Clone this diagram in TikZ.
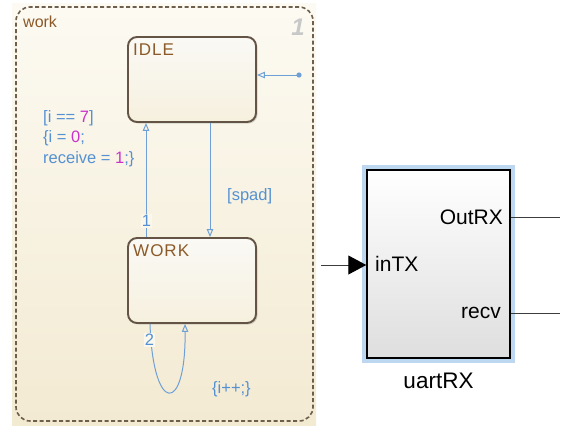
\documentclass[tikz,border=0pt]{standalone}
\usepackage{fontspec}
\setmainfont{Liberation Sans}
\newfontfamily\statefont[LetterSpace=6]{Liberation Sans}
\usetikzlibrary{arrows.meta,shadows}
\definecolor{chartbgtop}{RGB}{252,250,242}
\definecolor{chartbgbot}{RGB}{243,234,210}
\definecolor{dashcol}{RGB}{110,94,76}
\definecolor{stateborder}{RGB}{100,84,70}
\definecolor{labelbrown}{RGB}{140,90,40}
\definecolor{transblue}{RGB}{110,160,215}
\definecolor{textblue}{RGB}{85,145,210}
\definecolor{nummag}{RGB}{200,50,200}
\definecolor{selblue}{RGB}{190,215,240}
\definecolor{wmgray}{RGB}{200,200,200}
\definecolor{wirecol}{RGB}{60,60,60}
\definecolor{blockbot}{RGB}{222,222,222}
\definecolor{statetop}{RGB}{250,249,245}
\definecolor{statebot}{RGB}{246,240,222}
\tikzset{
  chartbox/.style={draw=dashcol, line width=1.6pt, dash pattern=on 4pt off 2.5pt,
    rounded corners=14pt, minimum width=297pt, minimum height=414pt, inner sep=0pt},
  statebox/.style={draw=stateborder, line width=1.9pt, rounded corners=9pt,
    top color=statetop, bottom color=statebot, minimum width=128pt, minimum height=85pt,
    inner sep=0pt, drop shadow={shadow xshift=1.5pt, shadow yshift=-1.5pt, opacity=0.3}},
  statelabel/.style={anchor=base west, inner sep=0pt, text=labelbrown,
    font=\statefont\fontsize{17}{20}\selectfont},
  trans/.style={draw=transblue, line width=1pt, -{Triangle[open, length=8pt, width=6.5pt]}},
  transtext/.style={anchor=base west, inner sep=0pt, text=textblue,
    font=\fontsize{16.5}{20.5}\selectfont, align=left},
  execnum/.style={inner sep=1pt, text=textblue, font=\fontsize{16.5}{20}\selectfont},
  block/.style={draw=black, line width=1.5pt, top color=white, bottom color=blockbot,
    minimum width=143pt, minimum height=188pt, inner sep=0pt,
    preaction={draw=selblue, line width=10pt}},
  port/.style={inner sep=0pt, text=black, font=\fontsize{21}{24}\selectfont},
  wire/.style={draw=wirecol, line width=1pt},
}
\begin{document}
\begin{tikzpicture}[x=1pt,y=-1pt]
\useasboundingbox (0,0) rectangle (570,432);
\fill[white] (0,0) rectangle (570,432);
% chart background and border
\shade[top color=chartbgtop, bottom color=chartbgbot] (12,3) rectangle (316,425);
\node[chartbox] (chart) at (164.5,214) {};
\node[anchor=base west, inner sep=0pt, text=labelbrown, font=\fontsize{16}{18}\selectfont] (chartname) at (23,27) {work};
\node[inner sep=0pt, text=wmgray, font=\fontsize{24}{24}\selectfont\bfseries\itshape] (chartnum) at (298,27) {1};
% states
\node[statebox] (idle) at (192,79.5) {};
\node[statebox] (work) at (192,280.5) {};
\node[statelabel] (idlelbl) at (133,55) {IDLE};
\node[statelabel] (worklbl) at (133,256) {WORK};
% default transition
\coordinate (dflt) at (299,75);
\fill[transblue] (dflt) circle (2.6pt);
\draw[trans] (dflt) -- (dflt -| idle.east);
% transitions
\draw[trans] ([xshift=18pt]idle.south) -- ([xshift=18pt]work.north);
\draw[trans] ([xshift=-46pt]work.north) -- ([xshift=-46pt]idle.south);
\draw[trans] ([xshift=-42pt]work.south) .. controls +(3,91) and +(1,91) .. ([xshift=-7pt]work.south);
% labels
\node[execnum, fill=chartbgbot!40!white] (num1) at (146.5,221) {1};
\node[execnum, fill=chartbgbot!40!white] (num2) at (149.5,340) {2};
\node[transtext] (guard1) at (43,163) {[i == \textcolor{nummag}{7}]\\\{i = \textcolor{nummag}{0};\\receive = \textcolor{nummag}{1};\}};
\node[transtext] (guard2) at (227,200) {[spad]};
\node[transtext] (act) at (212,393) {\{i++;\}};
% block
\node[block] (blk) at (438.5,264) {};
\node[port, anchor=base east] (outrx) at (503,224) {OutRX};
\node[port, anchor=base west] (intx) at (375,271) {inTX};
\node[port, anchor=base east] (recv) at (501,318) {recv};
\node[port, anchor=base, font=\fontsize{22.5}{24}\selectfont] (blkname) at (438.5,388) {uartRX};
% wires
\coordinate (inp) at (321,265);
\draw[wire, -{Triangle[length=18pt,width=19pt,color=black,fill=black]}] (inp) -- (inp -| blk.west);
\coordinate (o1) at (560,217);
\draw[wire] (o1 -| blk.east) -- (o1);
\coordinate (o2) at (560,313);
\draw[wire] (o2 -| blk.east) -- (o2);
\end{tikzpicture}
\end{document}
